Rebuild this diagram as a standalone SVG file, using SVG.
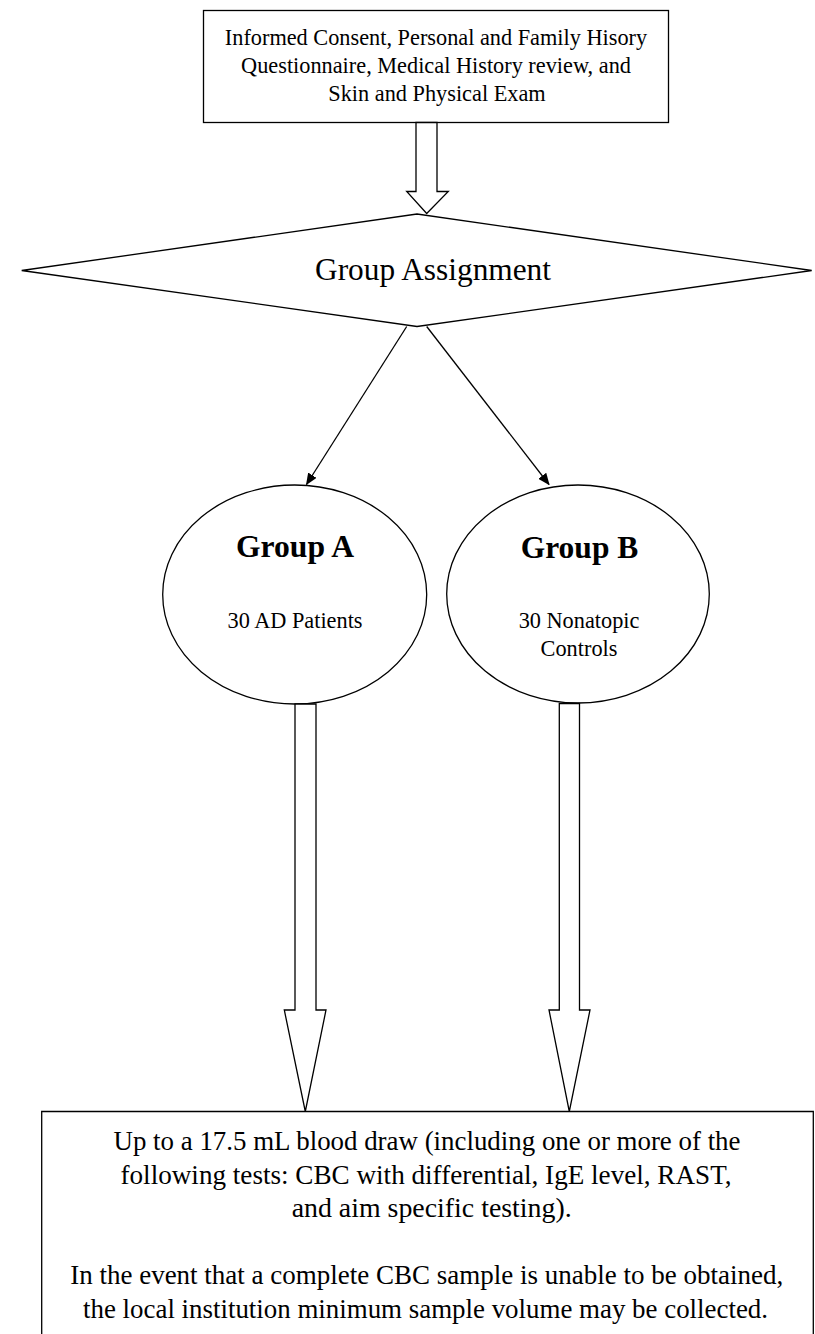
<svg xmlns="http://www.w3.org/2000/svg" width="815" height="1334" viewBox="0 0 815 1334">
  <style>
    .shape { fill: #fff; stroke: #000; stroke-width: 1.3; }
    .line { fill: none; stroke: #000; stroke-width: 1.3; }
    .txt { font-family: "Liberation Serif", "Times New Roman", serif; fill: #000; text-anchor: middle; }
    .s22 { font-size: 22.3px; }
    .s28 { font-size: 28px; }
    .s32 { font-size: 32px; }
    .bold { font-weight: bold; }
  </style>
  <defs>
    <marker id="arrowhead" viewBox="0 0 12 10" refX="11" refY="5" markerWidth="12" markerHeight="10" markerUnits="userSpaceOnUse" orient="auto">
      <path d="M0,0 L12,5 L0,10 Z" fill="#000"/>
    </marker>
  </defs>
  <rect width="815" height="1334" fill="#fff"/>

  <!-- screening step -->
  <g id="screening">
    <rect class="shape" x="203.5" y="10.5" width="465" height="112"/>
    <text class="txt s22" x="436" y="45">Informed Consent, Personal and Family Hisory</text>
    <text class="txt s22" x="436" y="73">Questionnaire, Medical History review, and</text>
    <text class="txt s22" x="437" y="101">Skin and Physical Exam</text>
  </g>

  <!-- decision -->
  <g id="assignment">
    <polygon class="shape" points="21.7,270.5 417,214 811.7,270.5 417,326.5"/>
    <text class="txt s32" x="433" y="280" textLength="236" lengthAdjust="spacingAndGlyphs">Group Assignment</text>
  </g>

  <!-- cohorts -->
  <g id="group-a">
    <ellipse class="shape" cx="294.7" cy="594.5" rx="132" ry="109.5"/>
    <text class="txt s32 bold" x="295" y="557" textLength="118" lengthAdjust="spacingAndGlyphs">Group A</text>
    <text class="txt s22" x="295" y="628">30 AD Patients</text>
  </g>
  <g id="group-b">
    <ellipse class="shape" cx="578" cy="594" rx="131.3" ry="109"/>
    <text class="txt s32 bold" x="579.5" y="558" textLength="117.6" lengthAdjust="spacingAndGlyphs">Group B</text>
    <text class="txt s22" x="579" y="628">30 Nonatopic</text>
    <text class="txt s22" x="579" y="656">Controls</text>
  </g>

  <!-- sample collection -->
  <g id="blood-draw">
    <polyline class="line" points="41.7,1340 41.7,1111.5 813.3,1111.5 813.3,1340"/>
    <text class="txt s28" x="427" y="1150" textLength="627" lengthAdjust="spacingAndGlyphs">Up to a 17.5 mL blood draw (including one or more of the</text>
    <text class="txt s28" x="426" y="1183.5" textLength="611" lengthAdjust="spacingAndGlyphs">following tests: CBC with differential, IgE level, RAST,</text>
    <text class="txt s28" x="431.7" y="1217" textLength="280" lengthAdjust="spacingAndGlyphs">and aim specific testing).</text>
    <text class="txt s28" x="426.7" y="1284" textLength="713" lengthAdjust="spacingAndGlyphs">In the event that a complete CBC sample is unable to be obtained,</text>
    <text class="txt s28" x="425.5" y="1317.5" textLength="685" lengthAdjust="spacingAndGlyphs">the local institution minimum sample volume may be collected.</text>
  </g>

  <!-- connectors -->
  <g id="connectors">
    <!-- hollow block arrows -->
    <polygon class="shape" points="416,122.5 437,122.5 437,191.5 448.3,191.5 426.7,213.5 406.7,191.5 416,191.5"/>
    <polygon class="shape" points="295,704 316,704 316,1010 326,1010 305.3,1111.5 284.3,1010 295,1010"/>
    <polygon class="shape" points="559.3,703.5 579.5,703.5 579.5,1010 590,1010 569.3,1111.5 549,1010 559.3,1010"/>
    <!-- thin arrows to cohorts -->
    <line class="line" x1="406.7" y1="326.5" x2="306.5" y2="484.5" marker-end="url(#arrowhead)"/>
    <line class="line" x1="426.7" y1="326.5" x2="549" y2="484.5" marker-end="url(#arrowhead)"/>
  </g>
</svg>
